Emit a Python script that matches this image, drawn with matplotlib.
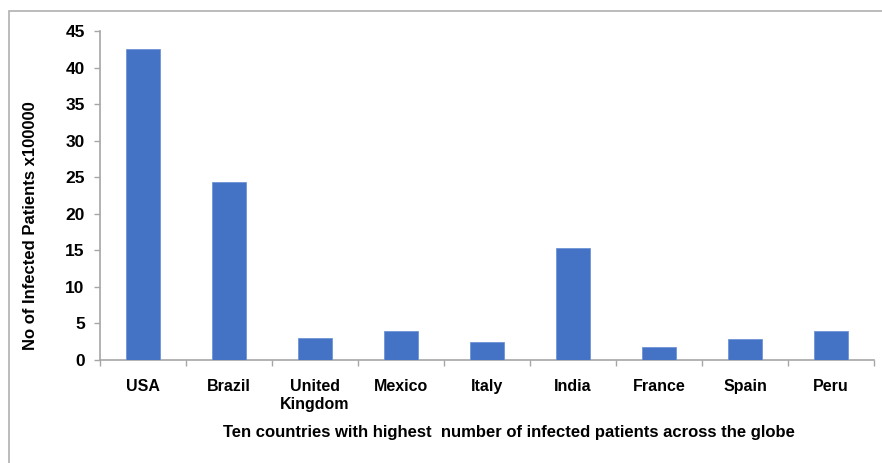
import matplotlib
matplotlib.use("Agg")
import matplotlib.pyplot as plt
from matplotlib.patches import Rectangle

countries = ["USA", "Brazil", "United\nKingdom", "Mexico", "Italy", "India", "France", "Spain", "Peru"]
infected = [42.6, 24.4, 3.0, 4.0, 2.5, 15.3, 1.8, 2.9, 4.0]
yticks = [0, 5, 10, 15, 20, 25, 30, 35, 40, 45]

plt.rcParams['font.family'] = ['Liberation Sans', 'DejaVu Sans']

fig = plt.figure(figsize=(8.82, 4.63), dpi=100)
ax = fig.add_axes([100/882, 1 - 360/463, 774/882, 329/463])

x = list(range(len(countries)))
ax.bar(x, infected, width=0.4, color="#4472C4", edgecolor="#6f93d6", linewidth=0.6, zorder=3)

ax.set_xlim(-0.5, len(countries) - 0.5)
ax.set_ylim(0, 45)
ax.set_yticks(yticks)
ax.set_yticklabels([str(v) for v in yticks], fontsize=12.5, fontweight='bold')
ax.set_xticks(x)
ax.set_xticklabels(countries, fontsize=11.5, fontweight='bold', linespacing=1.2)
ax.set_xticks([i - 0.5 for i in range(len(countries) + 1)], minor=True)

gray = "#a6a6a6"
for s in ["top", "right"]:
    ax.spines[s].set_visible(False)
for s in ["left", "bottom"]:
    ax.spines[s].set_color(gray)
    ax.spines[s].set_linewidth(1.2)

ax.tick_params(axis='x', which='major', length=0, pad=14)
ax.tick_params(axis='x', which='minor', length=4, color=gray, width=1)
ax.tick_params(axis='y', length=4, color=gray, width=1, pad=7)

ax.set_ylabel("No of Infected Patients x100000", fontsize=12, fontweight='bold')
ax.yaxis.set_label_coords((38 - 100) / 774, (360 - 226) / 329)
ax.set_xlabel("Ten countries with highest  number of infected patients across the globe",
              fontsize=12, fontweight='bold', va='center')
ax.xaxis.set_label_coords((509 - 100) / 774, (360 - 432) / 329)

fig.patches.append(Rectangle((9/882, -0.5), 1.5, 0.5 + (463 - 11)/463,
                             transform=fig.transFigure, fill=False,
                             edgecolor="#b0b0b0", linewidth=1.2))

fig.savefig("out.png", dpi=100)
